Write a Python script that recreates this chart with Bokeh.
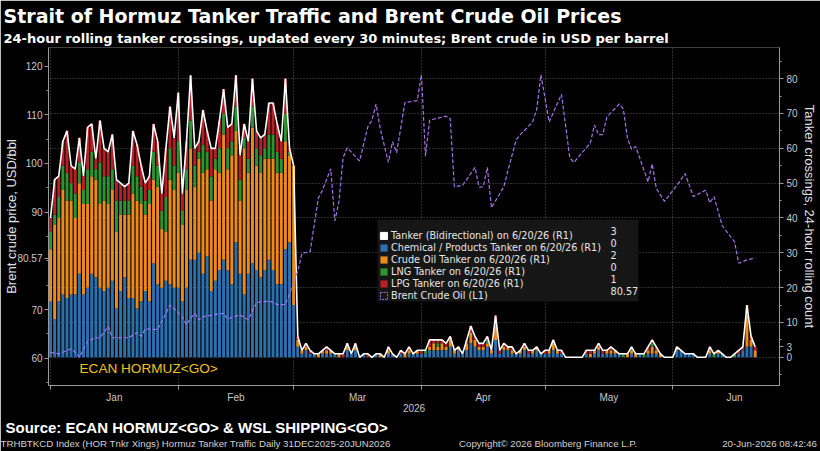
import calendar
import numpy as np
from bokeh.plotting import figure
from bokeh.models import (Range1d, LinearAxis, SingleIntervalTicker, FixedTicker, Label, Title,
                          Legend, LegendItem, ColumnDataSource, NumeralTickFormatter, BoxAnnotation)
from bokeh.embed import file_html
from bokeh.resources import INLINE

# ---------------- data (31 Dec 2025 .. 20 Jun 2026, daily) ----------------
tanker_total = [40, 51, 52, 62, 65, 55, 54, 63, 52, 66, 67, 57, 68, 60, 59, 64, 51, 50, 49, 50,
                65, 61, 55, 50, 52, 67, 62, 47, 60, 72, 63, 76, 47, 62, 81, 60, 62, 71, 65, 60,
                60, 68, 77, 66, 67, 81, 58, 67, 62, 80, 65, 63, 64, 73, 73, 67, 62, 80, 60, 55,
                6,
                2, 4, 2, 1, 1, 2, 3, 2, 1, 1, 1, 4, 1, 4, 0, 1, 1, 0, 1, 1,
                0, 3, 1, 0, 2, 1, 3, 1, 2, 2, 2, 5, 5, 5, 5, 4, 6, 2, 3, 1,
                5, 9, 6, 4, 4, 6, 2, 12, 2, 4, 3, 3, 1, 2, 4, 2,
                2, 3, 1, 2, 2, 5, 2, 2, 0, 0, 0, 0, 0, 2, 2, 2, 4, 2, 2, 3,
                2, 1, 1, 1, 3, 1, 1, 1, 3, 5, 3, 1, 0, 0, 0, 3, 2, 1, 1, 1,
                0, 0, 0, 3, 1, 2, 1, 0, 0, 1, 2, 3, 15, 6, 3]

chem_products = [16, 11, 16, 18, 17, 18, 18, 24, 18, 20, 24, 23, 20, 19, 20, 22, 14, 19, 23, 17,
                 17, 14, 16, 19, 16, 27, 21, 20, 22, 21, 20,
                 20, 16, 20, 28, 28, 30, 24, 29, 19, 22, 25, 28, 25, 21, 33, 24, 18, 24, 27, 25,
                 23, 25, 28, 25, 21, 21, 31, 33, 15,
                 3,
                 1, 2, 1, 1, 0, 1, 1, 1, 1, 0, 0, 2, 1, 2, 0, 1, 0, 0, 1, 0,
                 0, 1, 1, 0, 1, 0, 1, 1, 1, 1, 1, 2, 2, 2, 2, 2, 3, 1, 2, 1,
                 2, 4, 3, 2, 2, 3, 1, 5, 1, 2, 2, 1, 1, 1, 2, 1,
                 1, 2, 1, 1, 1, 2, 1, 1, 0, 0, 0, 0, 0, 1, 0, 1, 2, 1, 1, 1,
                 1, 1, 0, 0, 1, 0, 1, 0, 1, 1, 1, 0, 0, 0, 0, 2, 2, 1, 1, 1,
                 0, 0, 0, 1, 0, 1, 1, 0, 0, 0, 1, 2, 3, 3, 0]

crude_oil = [15, 27, 24, 30, 28, 27, 22, 26, 26, 24, 28, 28, 24, 26, 24, 26, 22, 22, 18, 24,
             30, 31, 28, 22, 28, 24, 28, 17, 14, 30, 28,
             33, 22, 28, 32, 21, 27, 29, 25, 26, 32, 28, 36, 29, 37, 32, 21, 42, 29, 39, 30,
             30, 32, 29, 32, 32, 32, 31, 25, 40,
             2,
             1, 1, 0, 0, 1, 1, 1, 1, 0, 1, 0, 1, 0, 1, 0, 0, 0, 0, 0, 1,
             0, 1, 0, 0, 0, 1, 1, 0, 1, 0, 0, 1, 2, 1, 2, 1, 2, 1, 1, 0,
             2, 3, 2, 1, 1, 1, 1, 4, 0, 1, 1, 1, 0, 1, 1, 0,
             1, 1, 0, 0, 1, 2, 1, 0, 0, 0, 0, 0, 0, 0, 1, 1, 1, 0, 1, 1,
             1, 0, 0, 1, 1, 1, 0, 0, 1, 2, 1, 1, 0, 0, 0, 1, 0, 0, 0, 0,
             0, 0, 0, 1, 0, 1, 0, 0, 0, 0, 0, 0, 9, 2, 2]

lng = [5, 3, 6, 7, 8, 5, 7, 6, 4, 10, 7, 3, 12, 7, 8, 6, 9, 4, 4, 4,
       8, 7, 5, 4, 4, 8, 6, 5, 10, 9, 7,
       9, 4, 6, 8, 6, 2, 8, 5, 7, 3, 7, 6, 6, 4, 7, 6, 3, 4, 6, 5,
       5, 3, 7, 7, 6, 4, 8, 1, 0,
       0,
       0, 0, 0, 0, 0, 0, 0, 0, 0, 0, 0, 0, 0, 0, 0, 0, 0, 0, 0, 0,
       0, 0, 0, 0, 0, 0, 0, 0, 0, 0, 1, 0, 0, 1, 0, 0, 0, 0, 0, 0,
       0, 0, 0, 0, 0, 1, 0, 1, 0, 0, 0, 0, 0, 0, 0, 0,
       0, 0, 0, 0, 0, 0, 0, 0, 0, 0, 0, 0, 0, 0, 0, 0, 0, 0, 0, 0,
       0, 0, 1, 0, 1, 0, 0, 1, 0, 1, 0, 0, 0, 0, 0, 0, 0, 0, 0, 0,
       0, 0, 0, 0, 1, 0, 0, 0, 0, 1, 0, 0, 0, 0, 0]

lpg = [4, 10, 6, 7, 12, 5, 7, 7, 4, 12, 8, 3, 12, 8, 7, 10, 6, 5, 4, 5,
       10, 9, 6, 5, 4, 8, 7, 5, 14, 12, 8,
       14, 5, 8, 13, 5, 3, 10, 6, 8, 3, 8, 7, 6, 5, 9, 7, 4, 5, 8, 5,
       5, 4, 9, 9, 8, 5, 10, 1, 0,
       1,
       0, 1, 1, 0, 0, 0, 1, 0, 0, 0, 1, 1, 0, 1, 0, 0, 1, 0, 0, 0,
       0, 1, 0, 0, 1, 0, 1, 0, 0, 1, 0, 2, 1, 1, 1, 1, 1, 0, 0, 0,
       1, 2, 1, 1, 1, 1, 0, 2, 1, 1, 0, 1, 0, 0, 1, 1,
       0, 0, 0, 1, 0, 1, 0, 1, 0, 0, 0, 0, 0, 1, 1, 0, 1, 1, 0, 1,
       0, 0, 0, 0, 0, 0, 0, 0, 1, 1, 1, 0, 0, 0, 0, 0, 0, 0, 0, 0,
       0, 0, 0, 1, 0, 0, 0, 0, 0, 0, 1, 1, 3, 1, 1]

# Brent crude (USD/bbl): day offset on the chart axis and price
brent_day = [0, 2, 5, 6, 7, 9, 11, 12, 14, 15, 19, 21, 22, 23, 26, 29, 30, 32, 33, 34,
             35, 36, 37, 40, 42, 43, 44, 46, 48, 50, 53, 54, 55, 57, 58, 59, 60, 61, 63, 65,
             66, 68, 69, 70, 71, 72, 75, 77, 78, 79, 80, 82, 83, 84, 86, 89, 90, 91, 92, 96,
             97, 98, 100, 103, 104, 105, 106, 107, 110, 111, 113, 114, 117, 118, 119, 121, 124, 126, 127, 131,
             132, 133, 134, 135, 138, 139, 140, 141, 142, 145, 146, 147, 149, 152, 154, 156, 159, 160, 161, 163,
             166, 167, 169, 171]
brent_usd = [61.2, 60.9, 61.9, 61.2, 60.2, 63.5, 64.2, 64.2, 66.5, 64.2, 64.2, 65.3, 64.5, 66.0, 65.9, 70.9, 70.2, 68.5, 66.9, 68.2,
             69.2, 67.9, 68.5, 69.0, 69.2, 68.0, 68.4, 68.9, 67.9, 71.5, 71.7, 71.5, 71.0, 71.0, 73.2, 75.5, 77.9, 81.5, 81.9, 92.9,
             94.5, 98.9, 88.2, 92.2, 101.2, 103.2, 100.5, 107.5, 108.9, 112.2, 107.2, 100.2, 104.5, 102.2, 112.5, 112.9, 118.2, 101.5, 108.9, 109.7,
             109.2, 95.2, 95.5, 99.2, 95.1, 95.2, 99.2, 90.9, 95.2, 98.5, 104.9, 105.9, 108.5, 111.2, 118.2, 108.5, 114.2, 101.2, 100.2, 104.2,
             107.9, 105.9, 105.9, 109.5, 112.2, 111.2, 105.2, 102.9, 103.5, 96.2, 99.9, 94.9, 92.2, 95.5, 97.9, 93.2, 94.5, 91.9, 93.2, 87.2,
             83.9, 79.5, 80.2, 80.57]

month_names = ["Jan", "Feb", "Mar", "Apr", "May", "Jun"]
year_label = "2026"
legend_labels = ["Tanker (Bidirectional) on 6/20/26 (R1)",
                 "Chemical / Products Tanker on 6/20/26 (R1)",
                 "Crude Oil Tanker on 6/20/26 (R1)",
                 "LNG Tanker on 6/20/26 (R1)",
                 "LPG Tanker on 6/20/26 (R1)",
                 "Brent Crude Oil (L1)"]
title_text = "Strait of Hormuz Tanker Traffic and Brent Crude Oil Prices"
subtitle_text = "24-hour rolling tanker crossings, updated every 30 minutes; Brent crude in USD per barrel"
source_text = "Source: ECAN HORMUZ<GO> & WSL SHIPPING<GO>"
footer_texts = ["TRHBTKCD Index (HOR Tnkr Xings) Hormuz Tanker Traffic Daily 31DEC2025-20JUN2026",
                "Copyright\u00a9 2026 Bloomberg Finance L.P.",
                "20-Jun-2026 08:42:46"]

# ---------------- styling ----------------
C_BLUE = "#2b71b0"
C_ORANGE = "#ec8a1c"
C_GREEN = "#2e9431"
C_RED = "#b81f27"
C_PURPLE = "#a572e8"
AX = "#9a9a9a"
TXT = "#c8c8c8"
FONT = "Liberation Sans"
WIDE = "DejaVu Sans"

n = len(tanker_total)
x = np.arange(n)
src = ColumnDataSource(dict(x=x, chem=chem_products, crude=crude_oil, lng=lng, lpg=lpg,
                            total=tanker_total))

p = figure(width=820, height=451, title=None,
           x_range=Range1d(-0.49, 176.9), y_range=Range1d(-8.1, 88.95),
           y_axis_location="right", output_backend="svg", toolbar_location=None,
           background_fill_color="black", border_fill_color="black",
           min_border_left=48, min_border_right=41, min_border_top=47, min_border_bottom=57)
p.outline_line_color = None
p.extra_y_ranges = {"brent": Range1d(54.4, 123.8)}

# month ticks
starts, mids, acc = [], [], 0
for m in range(1, 7):
    ml = calendar.monthrange(2026, m)[1]
    starts.append(float(acc))
    mids.append(acc + ml / 2.0)
    acc += ml

# x axis
xa = p.xaxis[0]
xa.ticker = FixedTicker(ticks=mids, minor_ticks=starts)
xa.major_label_overrides = {mv: nm for mv, nm in zip(mids, month_names)}
xa.major_tick_out = 0
xa.major_tick_in = 0
xa.minor_tick_out = 4
xa.minor_tick_in = 0
xa.major_label_standoff = 2
xa.axis_label = year_label
xa.axis_label_standoff = -2
xa.axis_label_text_font = FONT
xa.axis_label_text_font_style = "normal"
xa.axis_label_text_font_size = "10px"
xa.axis_label_text_color = TXT

# right axis (counts) - last values shown as tags on the axis
last_total, last_chem = tanker_total[-1], chem_products[-1]
right_ticks = sorted(set([v for v in range(0, 81, 10)
                          if min(abs(v - last_total), abs(v - last_chem)) >= 5] + [last_total, last_chem]))
ya = p.yaxis[0]
ya.ticker = FixedTicker(ticks=right_ticks, minor_ticks=list(range(-5, 90, 5)))
ya.formatter = NumeralTickFormatter(format="0")
ya.axis_label = "Tanker crossings, 24-hour rolling count"
ya.axis_label_standoff = 1
ya.major_label_standoff = 3

# left axis (brent) with last value tag
last_brent = brent_usd[-1]
left_ticks = [float(v) for v in range(60, 121, 10) if abs(v - last_brent) > 5] + [last_brent]
la = LinearAxis(y_range_name="brent",
                ticker=FixedTicker(ticks=left_ticks, minor_ticks=list(range(55, 125, 5))),
                formatter=NumeralTickFormatter(format="0"))
la.major_label_overrides = {last_brent: f"{last_brent:.2f}"}
la.axis_label = "Brent crude price, USD/bbl"
la.axis_label_standoff = -5
la.major_label_standoff = 2
p.add_layout(la, "left")

for ax in (xa, ya, la):
    ax.axis_line_color = AX
    ax.major_tick_line_color = AX
    ax.minor_tick_line_color = AX
    ax.major_label_text_color = TXT
    ax.major_label_text_font = FONT
    ax.major_label_text_font_size = "10px"
for ax in (ya, la):
    ax.major_tick_out = 4
    ax.major_tick_in = 0
    ax.minor_tick_out = 2
    ax.minor_tick_in = 0
    ax.axis_label_text_font = FONT
    ax.axis_label_text_font_style = "normal"
    ax.axis_label_text_font_size = "13px"
    ax.axis_label_text_color = "#e0e0e0"

p.ygrid.ticker = SingleIntervalTicker(interval=10)
p.xgrid.ticker = FixedTicker(ticks=starts)
for g in (p.xgrid, p.ygrid):
    g.grid_line_color = "#5a5a5a"
    g.grid_line_dash = "1 2"
    g.grid_line_width = 1

# bars, total line and brent
stack = p.vbar_stack(["chem", "crude", "lng", "lpg"], x="x", width=0.72, source=src,
                     fill_color=[C_BLUE, C_ORANGE, C_GREEN, C_RED], line_color=None)
p.line("x", "total", source=src, line_color="white", line_width=1.6)
p.line(brent_day, brent_usd, y_range_name="brent", line_color=C_PURPLE, line_width=1.2,
       line_dash="4 2")

# legend background box
p.add_layout(BoxAnnotation(left=329, right=590, bottom=84, top=166,
                           left_units="screen", right_units="screen",
                           top_units="screen", bottom_units="screen",
                           fill_color="#161616", fill_alpha=1.0, line_color=None))

# legend icons (no visible data)
icon_total = p.quad(left=[np.nan], right=[np.nan], top=[np.nan], bottom=[np.nan],
                    fill_color="white", line_color="white")
icon_brent = p.quad(left=[np.nan], right=[np.nan], top=[np.nan], bottom=[np.nan],
                    fill_color=None, line_color=C_PURPLE, line_dash="2 1", y_range_name="brent")
renderers = [icon_total] + list(stack) + [icon_brent]
legend = Legend(items=[LegendItem(label=lb, renderers=[r]) for lb, r in zip(legend_labels, renderers)],
                location=(331, 84), margin=0, padding=5, spacing=0,
                glyph_height=9, glyph_width=9, label_height=12, label_standoff=3,
                label_text_font=WIDE, label_text_font_size="9.7px",
                label_text_color="#e6e6e6", background_fill_alpha=0.0, border_line_color=None)
p.add_layout(legend)

last_vals = [str(last_total), str(last_chem), str(crude_oil[-1]), str(lng[-1]),
             str(lpg[-1]), f"{last_brent:.2f}"]
for i, t in enumerate(last_vals):
    p.add_layout(Label(x=562, y=155 - 12 * i, x_units="screen", y_units="screen", text=t,
                       text_font=WIDE, text_font_size="9.7px", text_color="#e6e6e6",
                       text_baseline="middle", level="overlay"))

# in-plot tag
p.add_layout(Label(x=31, y=10, x_units="screen", y_units="screen", text="ECAN HORMUZ<GO>",
                   text_font=FONT, text_font_size="13.6px", text_color="#f0c020"))

# titles (first added = nearest to the plot)
p.add_layout(Title(text=subtitle_text, align="left", offset=-45, standoff=4,
                   text_font=WIDE, text_font_style="bold", text_font_size="13px",
                   text_color="white"), "above")
p.add_layout(Title(text=title_text, align="left", offset=-45, standoff=0,
                   text_font=WIDE, text_font_style="bold", text_font_size="19px",
                   text_color="white"), "above")

# footer
p.add_layout(Title(text=source_text, align="left", offset=-43, standoff=4,
                   text_font=FONT, text_font_style="bold", text_font_size="15px",
                   text_color="white"), "below")
foot_pos = [34.9, 120.75, 174.5]
fa = LinearAxis(ticker=FixedTicker(ticks=foot_pos),
                major_label_overrides={fp: ft for fp, ft in zip(foot_pos, footer_texts)})
fa.axis_line_color = None
fa.major_tick_line_color = None
fa.minor_tick_line_color = None
fa.major_tick_out = 0
fa.major_tick_in = 0
fa.major_label_standoff = 0
fa.major_label_text_font = FONT
fa.major_label_text_font_size = "9.7px"
fa.major_label_text_color = "#d0d0d0"
p.add_layout(fa, "below")

open("out.html", "w").write(file_html(p, INLINE))
